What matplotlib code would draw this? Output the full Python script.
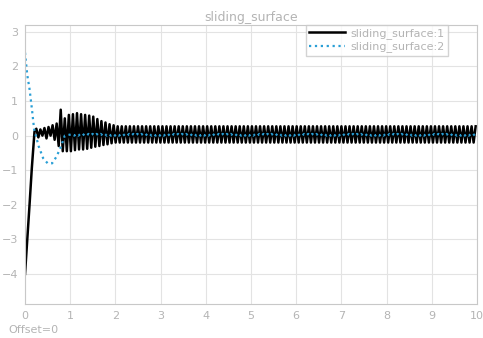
import matplotlib.pyplot as plt

# sliding_surface:1 -- vertices
s1_ramp_t = [0.0, 0.05, 0.1, 0.15, 0.21]
s1_ramp_v = [-4.0, -3.0, -2.0, -0.95, 0.12]
# extremes after the ramp, one every 0.045 s from t=0.25
s1_wiggle = [0.2, -0.05, 0.18, 0.0, 0.22, -0.08, 0.25, 0.0, 0.3, -0.12, 0.35,
             -0.3, 0.75, -0.45, 0.5, -0.45, 0.6, -0.45, 0.62, -0.42, 0.65, -0.4,
             0.62, -0.4, 0.6, -0.38, 0.58, -0.35, 0.55, -0.32,
             0.48, -0.3, 0.42, -0.27, 0.38, -0.25, 0.33, -0.22, 0.3]
s1_steady = [-0.2, 0.27] * 89

# sliding_surface:2
s2_t = [0.0, 0.05, 0.1, 0.15, 0.2, 0.3, 0.4, 0.5, 0.6, 0.7, 0.8, 0.88, 1.0]
s2_v = [2.4, 1.75, 1.35, 0.8, 0.2, -0.3, -0.65, -0.8, -0.8, -0.6, -0.3, 0.0, 0.03]
s2_steady = [0.05, 0.0] * 100

step = 0.045
t1 = s1_ramp_t + [0.25 + step * i for i in range(len(s1_wiggle))]
t1 = t1 + [t1[-1] + step * (i + 1) for i in range(len(s1_steady))]
v1 = s1_ramp_v + s1_wiggle + s1_steady

t2 = s2_t + [1.0 + step * (i + 1) for i in range(len(s2_steady))]
v2 = s2_v + s2_steady

grey = '#b4b4b4'
fig = plt.figure(figsize=(4.83, 3.38), dpi=100)
ax = fig.add_axes([0.0518, 0.1006, 0.9358, 0.8254])

ax.plot(t1, v1, color='black', lw=1.8, label='sliding_surface:1')
ax.plot(t2, v2, color='#2a9fd6', lw=1.6, ls=':', label='sliding_surface:2')

ax.set_xlim(0, 10)
ax.set_ylim(-4.87, 3.2)
ax.set_xticks(range(0, 11))
ax.set_yticks(range(-4, 4))
ax.grid(True, color='#e3e3e3', lw=0.8)
ax.tick_params(colors=grey, labelcolor=grey, labelsize=8, length=0, pad=5)
for sp in ax.spines.values():
    sp.set_color('#c8c8c8')
ax.set_title('sliding_surface', color=grey, fontsize=9, pad=3)

leg = ax.legend(loc='upper right', bbox_to_anchor=(0.936, 1.0), fontsize=8,
                frameon=True, fancybox=False, handlelength=3.2, borderpad=0.3,
                labelspacing=0.2, handletextpad=0.5, borderaxespad=0)
leg.get_frame().set_edgecolor('#c8c8c8')
for txt in leg.get_texts():
    txt.set_color(grey)

fig.text(0.017, 0.015, 'Offset=0', color=grey, fontsize=8)

fig.savefig('out.png', dpi=100)
